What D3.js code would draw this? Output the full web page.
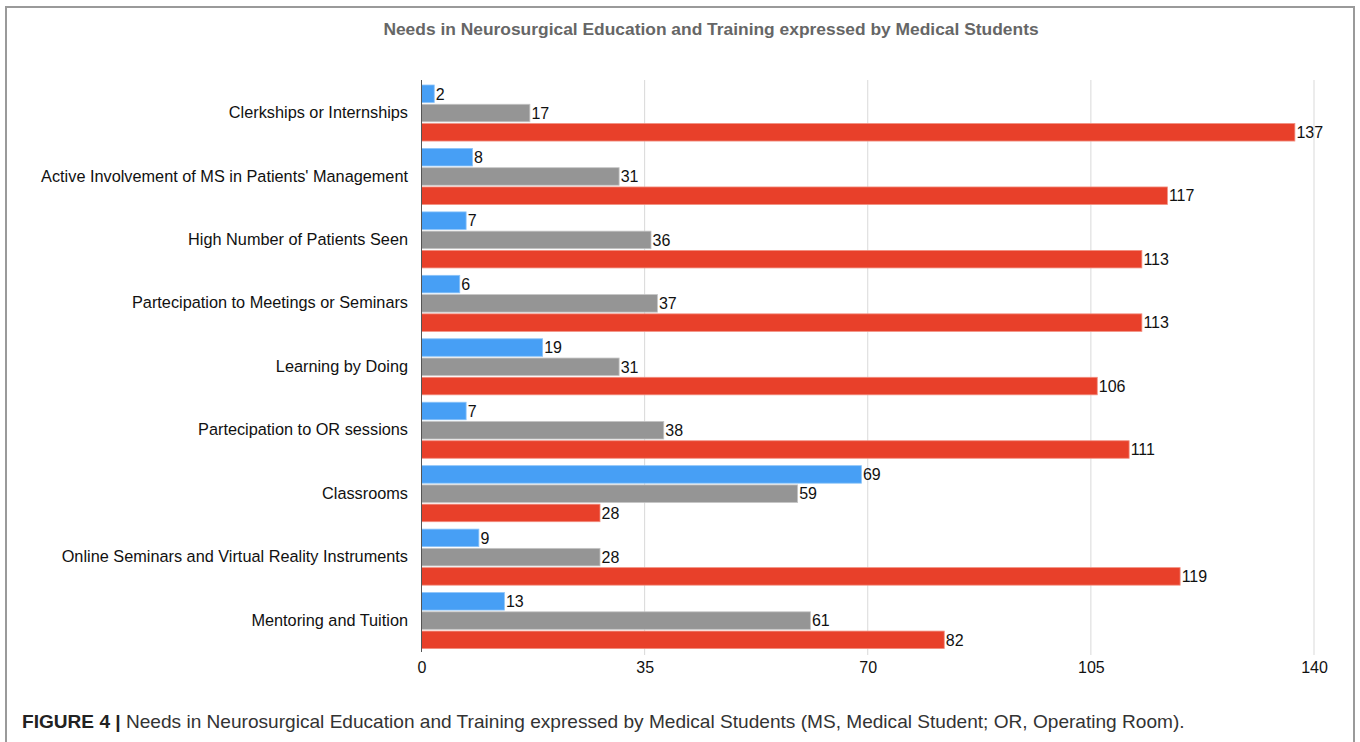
<!DOCTYPE html>
<html>
<head>
<meta charset="utf-8">
<script src="https://cdn.jsdelivr.net/npm/d3@7"></script>
<style>
  html, body { margin: 0; padding: 0; background: #fff; }
  svg { display: block; }
</style>
</head>
<body>
<svg id="chart" width="1360" height="742"></svg>
<script>
const categories = [
  "Clerkships or Internships",
  "Active Involvement of MS in Patients' Management",
  "High Number of Patients Seen",
  "Partecipation to Meetings or Seminars",
  "Learning by Doing",
  "Partecipation to OR sessions",
  "Classrooms",
  "Online Seminars and Virtual Reality Instruments",
  "Mentoring and Tuition"
];
const seriesNames = ["Series 1", "Series 2", "Series 3"];
const seriesBlue = [2, 8, 7, 6, 19, 7, 69, 9, 13];
const seriesGray = [17, 31, 36, 37, 31, 38, 59, 28, 61];
const seriesRed = [137, 117, 113, 113, 106, 111, 28, 119, 82];
const tickValues = [0, 35, 70, 105, 140];
const titleText = "Needs in Neurosurgical Education and Training expressed by Medical Students";
const captionBold = "FIGURE 4 |";
const captionText = " Needs in Neurosurgical Education and Training expressed by Medical Students (MS, Medical Student; OR, Operating Room).";

const colors = ["#479ff5", "#959595", "#e8402a"];
const strokes = ["#8cc4f9", "#c4c4c4", "#f28f80"];
const seriesData = [seriesBlue, seriesGray, seriesRed];

const svg = d3.select("#chart");
const font = "'Liberation Sans', Arial, Helvetica, sans-serif";

// frame
svg.append("rect")
  .attr("x", 6).attr("y", 7).attr("width", 1348).attr("height", 745)
  .attr("fill", "none").attr("stroke", "#9a9a9a").attr("stroke-width", 2);

const x = d3.scaleLinear().domain([0, 140]).range([421.5, 1314]);
const y = d3.scaleBand().domain(categories).range([81, 652]).padding(0);
const inner = d3.scaleBand().domain(seriesNames).range([4, y.bandwidth() - 3.4]).paddingInner(0.09);

// gridlines
svg.append("g").selectAll("line")
  .data(tickValues.filter(d => d > 0))
  .join("line")
  .attr("x1", d => x(d)).attr("x2", d => x(d))
  .attr("y1", 80).attr("y2", 655)
  .attr("stroke", "#d9d9d9").attr("stroke-width", 1);

// title
svg.append("text")
  .attr("x", 711).attr("y", 35)
  .attr("text-anchor", "middle")
  .attr("font-family", font).attr("font-size", 17.4).attr("font-weight", "bold")
  .attr("fill", "#666666")
  .text(titleText);

// bars
const groups = svg.append("g").selectAll("g")
  .data(categories)
  .join("g")
  .attr("transform", d => `translate(0,${y(d)})`);

seriesNames.forEach((s, si) => {
  groups.append("rect")
    .attr("x", x(0))
    .attr("y", inner(s))
    .attr("width", (d, i) => x(seriesData[si][i]) - x(0))
    .attr("height", inner.bandwidth())
    .attr("fill", colors[si])
    .attr("stroke", strokes[si]).attr("stroke-width", 0.8);
  groups.append("text")
    .attr("x", (d, i) => x(seriesData[si][i]) + 1.5)
    .attr("y", inner(s) + inner.bandwidth() / 2)
    .attr("dy", "0.36em")
    .attr("font-family", font).attr("font-size", 16)
    .attr("fill", "#111")
    .text((d, i) => seriesData[si][i]);
});

// category labels
svg.append("g").selectAll("text")
  .data(categories)
  .join("text")
  .attr("x", 408)
  .attr("y", d => y(d) + y.bandwidth() / 2 - 0.5)
  .attr("dy", "0.36em")
  .attr("text-anchor", "end")
  .attr("font-family", font).attr("font-size", 16.3)
  .attr("fill", "#111")
  .text(d => d);

// axis line at zero
svg.append("line")
  .attr("x1", x(0)).attr("x2", x(0))
  .attr("y1", 80).attr("y2", 652)
  .attr("stroke", "#555").attr("stroke-width", 1);

// x axis
const xAxis = d3.axisBottom(x).tickValues(tickValues).tickSize(0).tickPadding(0);
const ax = svg.append("g").attr("transform", "translate(0,662)").call(xAxis);
ax.select(".domain").remove();
ax.selectAll("text")
  .attr("font-family", font).attr("font-size", 16).attr("fill", "#111")
  .attr("dy", "0.71em");

// caption
const cap = svg.append("text")
  .attr("x", 22).attr("y", 728)
  .attr("font-family", font).attr("font-size", 18)
  .attr("fill", "#333");
cap.append("tspan").attr("font-weight", "bold").attr("fill", "#222").text(captionBold);
cap.append("tspan").text(captionText);
const w = cap.node().getComputedTextLength();
const target = 1185 - 22;
cap.attr("transform", `translate(22,0) scale(${target / w},1) translate(-22,0)`);
</script>
</body>
</html>
